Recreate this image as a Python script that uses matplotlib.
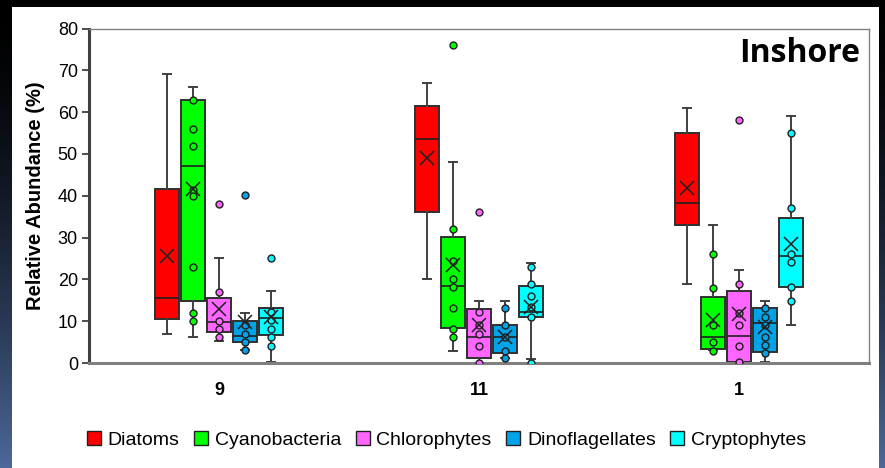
import numpy as np
import matplotlib
matplotlib.use("Agg")
import matplotlib.pyplot as plt
from matplotlib.patches import Patch, Rectangle

# ---------------- data ----------------
months = ['9', '11', '1']
taxa = ['Diatoms', 'Cyanobacteria', 'Chlorophytes', 'Dinoflagellates', 'Cryptophytes']
colors = ['#FF0000', '#00FF00', '#FF66FF', '#00A2E8', '#00FFFF']

# per taxon, values for months 9, 11, 1
whisker_low = [[6.9, 20.0, 18.9], [6.1, 2.9, 3.0], [5.3, 0.1, 0.2], [3.0, 1.1, 0.3], [0.3, 0.9, 9.1]]
quart1 = [[10.6, 36.2, 33.1], [14.9, 8.4, 3.4], [7.4, 1.1, 0.2], [5.1, 2.3, 2.6], [6.7, 10.9, 18.1]]
medians = [[15.6, 53.6, 38.2], [47.0, 18.5, 6.2], [9.7, 6.2, 6.5], [6.5, 6.2, 9.5], [10.7, 12.3, 25.5]]
quart3 = [[41.7, 61.4, 54.9], [63.0, 30.1, 15.8], [15.6, 12.9, 17.2], [10.1, 9.1, 13.1], [13.2, 18.3, 34.6]]
whisker_high = [[69.0, 67.0, 61.0], [65.9, 48.0, 33.0], [25.1, 14.9, 22.2], [11.9, 14.9, 14.9], [17.2, 24.0, 59.0]]
means = [[25.6, 49.1, 41.8], [41.6, 23.5, 10.3], [12.9, 9.1, 11.7], [9.7, 6.3, 8.5], [11.1, 13.3, 28.4]]
points = [
    [[], [], []],
    [[63, 56, 52, 41.4, 40, 23, 12, 10], [76, 32, 24.3, 20.1, 18.1, 13.1, 8.1, 6.2], [26.1, 18, 9.1, 5.1, 2.9]],
    [[38.1, 17.1, 10.1, 8.1, 6.3], [36.1, 12.1, 9.1, 7.0, 4.1, 0.1], [58, 18.9, 11.9, 9.1, 4.1, 0.2]],
    [[40.1, 9.1, 7.0, 5.0, 3.0], [13.1, 9.1, 6.2, 2.9, 1.1], [13.1, 11.1, 9.1, 6.3, 4.3, 2.3]],
    [[25.1, 12.1, 10.2, 8.1, 6.1, 4.1], [22.9, 18.9, 16.1, 13.5, 11.0, 0.1], [55, 37.1, 26.1, 24.1, 18.1, 14.9]],
]
yticks = [0, 10, 20, 30, 40, 50, 60, 70, 80]
title_text = 'Inshore'
ylabel_text = 'Relative Abundance (%)'

# ---------------- figure ----------------
W, H = 885, 468
fig = plt.figure(figsize=(W / 100, H / 100), dpi=100)
fig.patch.set_facecolor('black')

# dark gradient background
bg = fig.add_axes([0, 0, 1, 1], zorder=-10)
t = np.linspace(0, 1, 256) ** 1.6
grad = np.zeros((256, 1, 3))
top = np.array([0.0, 0.0, 0.0])
bot = np.array([0.30, 0.41, 0.60])
for i, v in enumerate(t):
    grad[i, 0, :] = top * (1 - v) + bot * v
bg.imshow(grad, aspect='auto', extent=[0, 1, 0, 1], origin='upper')
bg.set_xlim(0, 1)
bg.set_ylim(0, 1)
bg.axis('off')
bg.add_patch(Rectangle((12 / W, 0), (879 - 12) / W, (H - 7) / H,
                       facecolor='white', edgecolor='none'))

ax_l, ax_r, ax_t, ax_b = 89, 869, 28.5, 363
ax = fig.add_axes([ax_l / W, 1 - ax_b / H, (ax_r - ax_l) / W, (ax_b - ax_t) / H])
ax.set_facecolor('white')

step = 0.1
width = 0.092
for ti, taxon in enumerate(taxa):
    stats = []
    pos = []
    for mi in range(len(months)):
        stats.append(dict(whislo=whisker_low[ti][mi], q1=quart1[ti][mi], med=medians[ti][mi],
                          q3=quart3[ti][mi], whishi=whisker_high[ti][mi], fliers=[]))
        pos.append(mi + (ti - 2) * step)
    bp = ax.bxp(stats, positions=pos, widths=width, patch_artist=True,
                showfliers=False, capwidths=0.032,
                boxprops=dict(facecolor=colors[ti], edgecolor='#303030', linewidth=1.4),
                medianprops=dict(color='#202020', linewidth=1.2),
                whiskerprops=dict(color='#404040', linewidth=1.4),
                capprops=dict(color='#404040', linewidth=1.4), manage_ticks=False)
    for mi in range(len(months)):
        p = points[ti][mi]
        ax.plot([pos[mi]] * len(p), p, linestyle='none', marker='o', markersize=5,
                markerfacecolor=colors[ti], markeredgecolor='#202020', markeredgewidth=1.0, zorder=4)
    ax.plot(pos, means[ti], linestyle='none', marker='x', markersize=10.5,
            color='#202020', markeredgewidth=1.1, zorder=5)

ax.set_xlim(-0.5, len(months) - 0.5)
ax.set_ylim(0, 80)
ax.set_yticks(yticks)
ax.set_yticklabels([str(v) for v in yticks], fontsize=13, family='Liberation Sans')
ax.set_xticks(range(len(months)))
ax.set_xticklabels(months, fontsize=13, fontweight='bold', family='Liberation Sans')
ax.tick_params(axis='x', length=0, pad=14)
ax.tick_params(axis='y', length=5, width=1.3, color='#404040', pad=3)
for side in ['top', 'right']:
    ax.spines[side].set_color('#808080')
    ax.spines[side].set_linewidth(1.0)
ax.spines['left'].set_color('#404040')
ax.spines['left'].set_linewidth(2.2)
ax.spines['bottom'].set_color('#808080')
ax.spines['bottom'].set_linewidth(2.2)

ax.set_ylabel(ylabel_text, fontsize=14.5, fontweight='bold', family='Liberation Sans')
ax.yaxis.set_label_coords(-0.057, 0.5)
ax.text(0.988, 0.975, title_text, transform=ax.transAxes, ha='right', va='top',
        fontsize=23, fontweight='bold', family='Open Sans')

handles = [Patch(facecolor=c, edgecolor='#202020', linewidth=1.0) for c in colors]
fig.legend(handles, taxa, loc='center', bbox_to_anchor=(446.5 / W, 1 - 440 / H), ncol=5,
           frameon=False, prop=dict(family='Liberation Sans', size=14),
           handlelength=0.72, handleheight=0.72, handletextpad=0.35, columnspacing=0.75)

fig.savefig('out.png', dpi=100, facecolor=fig.get_facecolor())
